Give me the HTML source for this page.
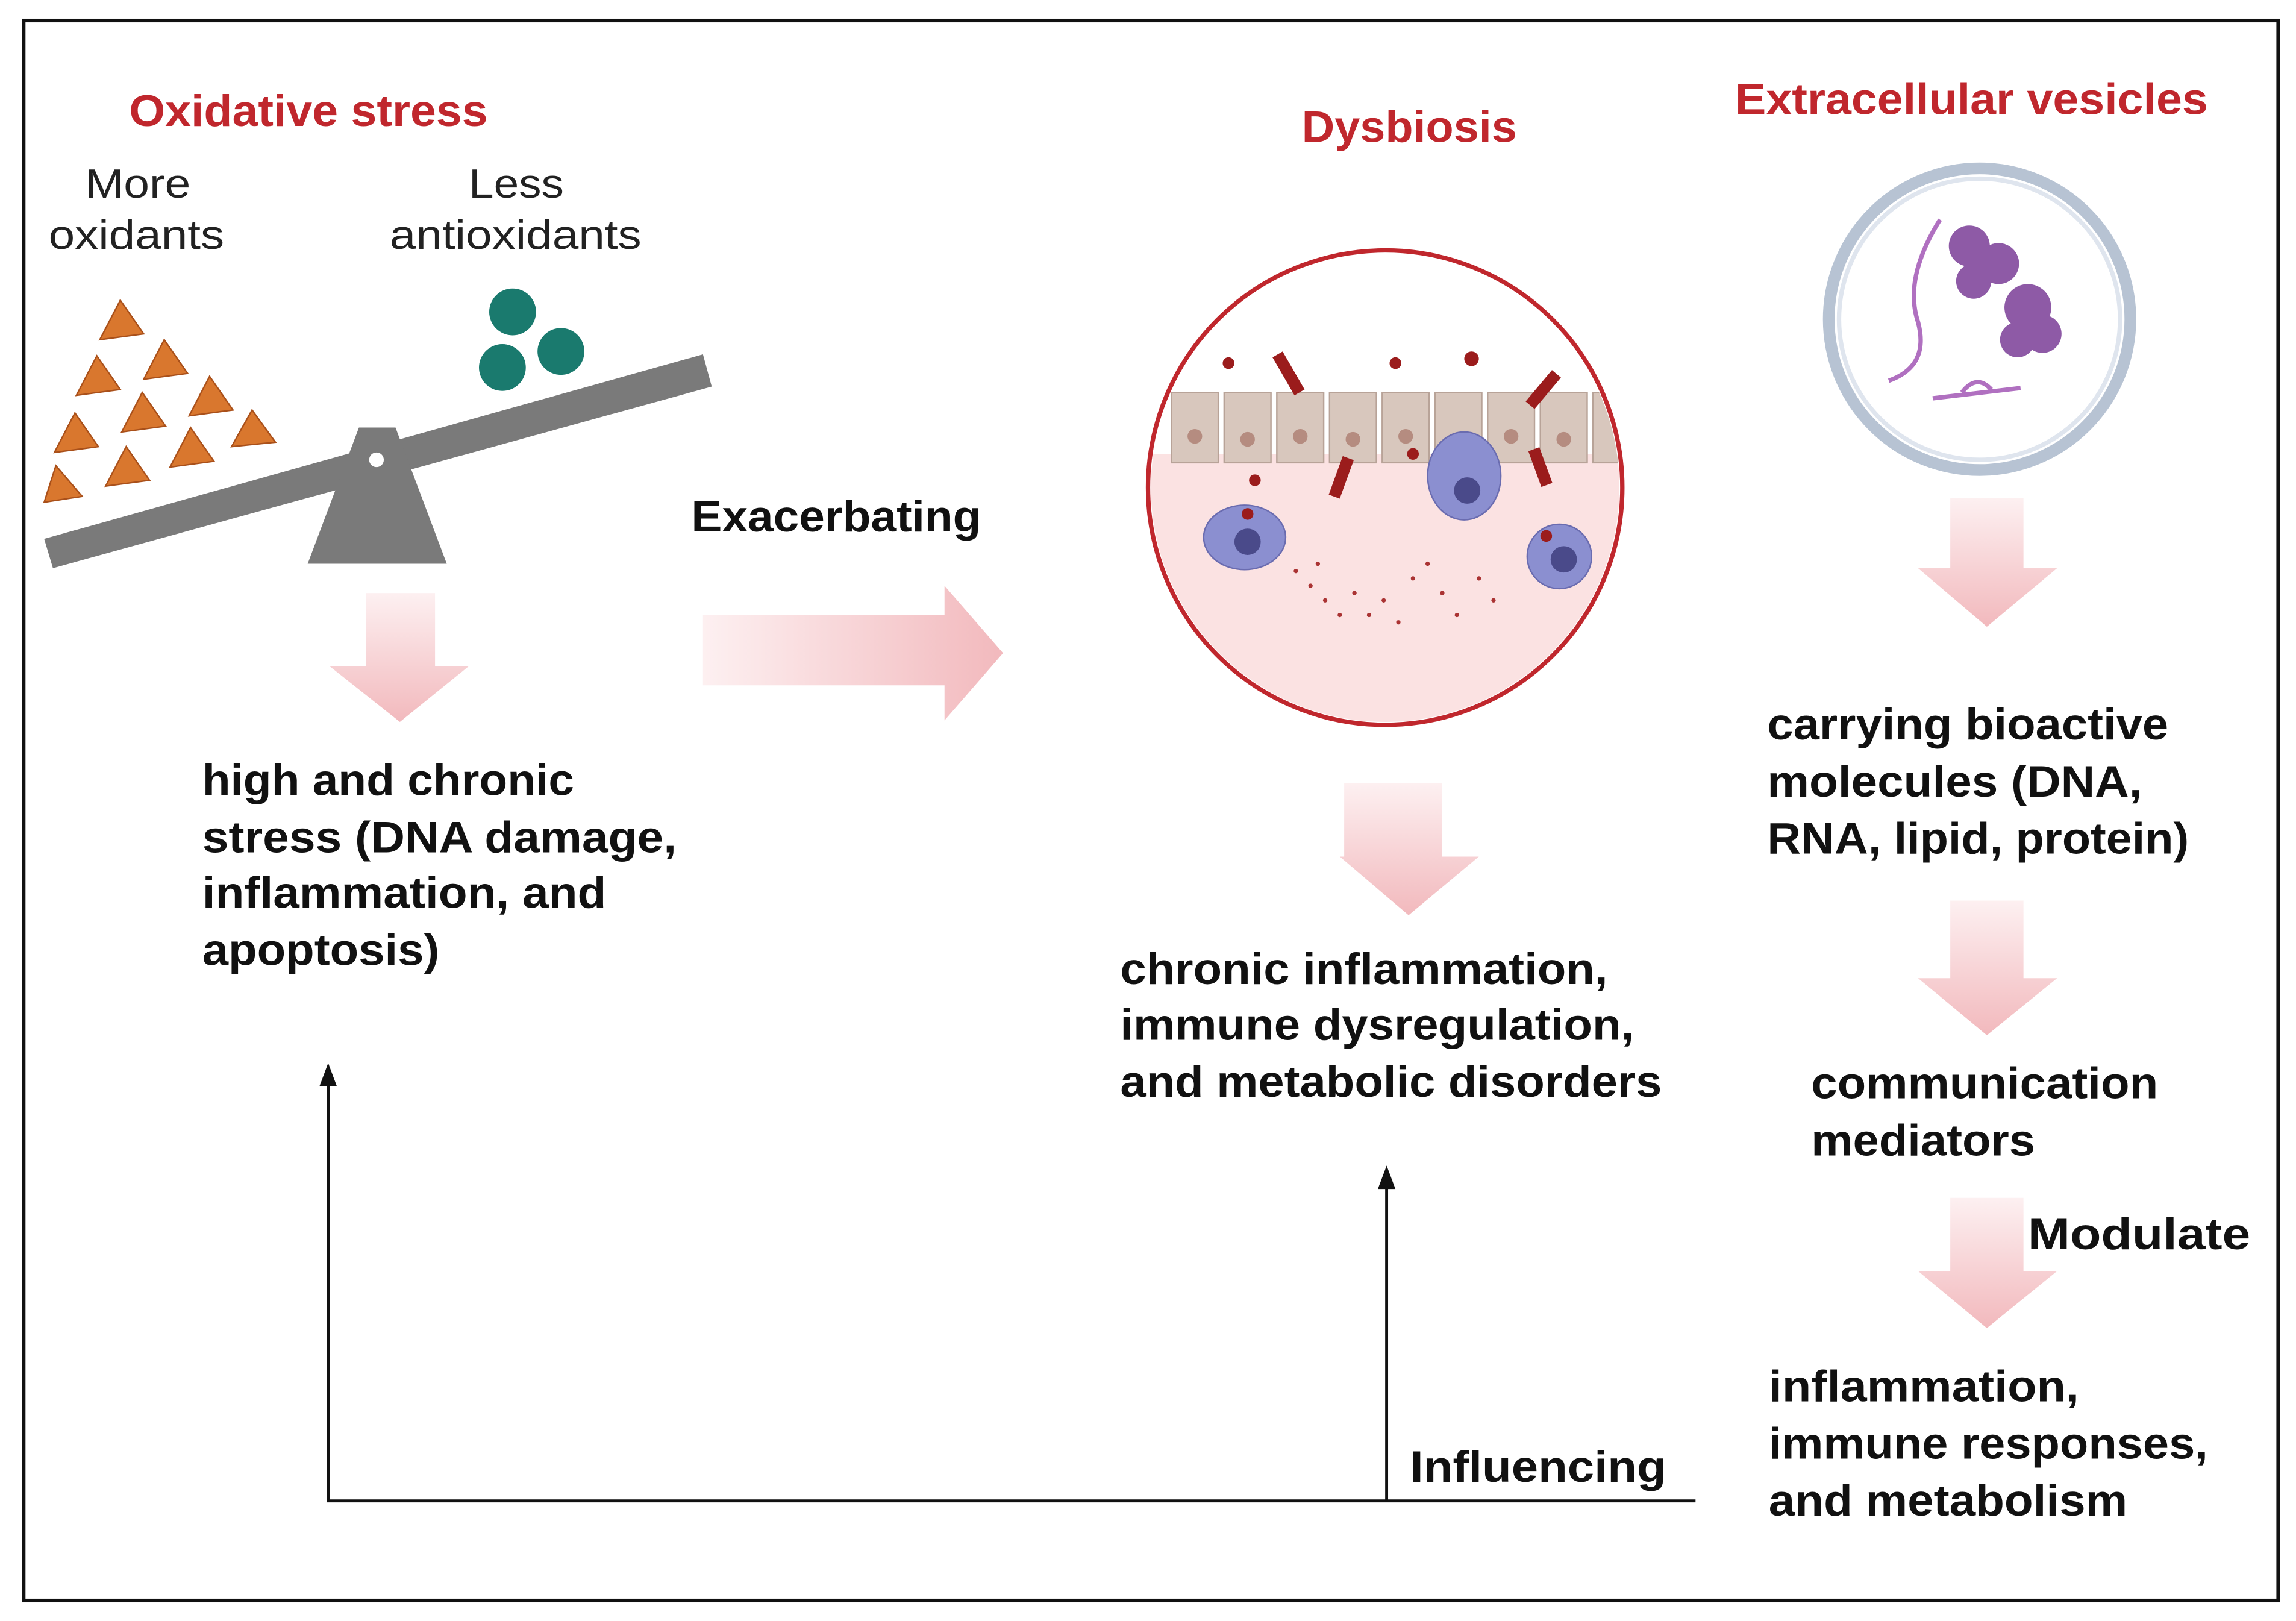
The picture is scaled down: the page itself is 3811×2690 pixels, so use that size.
<!DOCTYPE html>
<html><head><meta charset="utf-8"><style>
html,body{margin:0;padding:0;background:#fff}
svg{display:block}
text{font-family:"Liberation Sans",sans-serif}
</style></head><body>
<svg width="3811" height="2690" viewBox="0 0 1568 1107" xmlns="http://www.w3.org/2000/svg">
<defs>
<linearGradient id="gd" x1="0" y1="0" x2="0" y2="1"><stop offset="0" stop-color="#fdf0f1"/><stop offset="1" stop-color="#f2b9bd"/></linearGradient>
<linearGradient id="gr" x1="0" y1="0" x2="1" y2="0"><stop offset="0" stop-color="#fdf0f1"/><stop offset="1" stop-color="#f2b9bd"/></linearGradient>
<clipPath id="cc"><circle cx="946" cy="333" r="160"/></clipPath>
</defs>
<rect x="0" y="0" width="1568" height="1107" fill="#fff"/>
<rect x="16" y="14" width="1540" height="1079" fill="none" stroke="#111" stroke-width="2.5"/>

<g fill="#c0272d" font-weight="bold" font-size="30" lengthAdjust="spacingAndGlyphs">
<text x="88" y="86" textLength="245" lengthAdjust="spacingAndGlyphs">Oxidative stress</text>
<text x="889" y="97" textLength="147" lengthAdjust="spacingAndGlyphs">Dysbiosis</text>
<text x="1185" y="78" textLength="323" lengthAdjust="spacingAndGlyphs">Extracellular vesicles</text>
</g>
<g fill="#222" font-size="28">
<text x="58" y="135" textLength="72" lengthAdjust="spacingAndGlyphs">More</text>
<text x="33" y="170" textLength="120" lengthAdjust="spacingAndGlyphs">oxidants</text>
<text x="320" y="135" textLength="65" lengthAdjust="spacingAndGlyphs">Less</text>
<text x="266" y="170" textLength="172" lengthAdjust="spacingAndGlyphs">antioxidants</text>
</g>

<polygon points="30,368 480,242 486,264 36,388" fill="#7a7a7a"/>
<polygon points="245,292 270,292 305,385 210,385" fill="#7a7a7a"/>
<circle cx="257" cy="314" r="5" fill="#fff"/>
<g fill="#d9772e" stroke="#a9501a" stroke-width="1">
<polygon points="82,205 68,232 98,228"/>
<polygon points="66,243 52,270 82,266"/><polygon points="112,232 98,259 128,255"/>
<polygon points="51,282 37,309 67,305"/><polygon points="97,268 83,295 113,291"/><polygon points="143,257 129,284 159,280"/>
<polygon points="38,318 30,343 56,339"/><polygon points="86,305 72,332 102,328"/><polygon points="130,292 116,319 146,315"/><polygon points="172,280 158,305 188,302"/>
</g>
<g fill="#1a7a6e"><circle cx="350" cy="213" r="16"/><circle cx="343" cy="251" r="16"/><circle cx="383" cy="240" r="16"/></g>

<circle cx="946" cy="333" r="162" fill="#fff"/>
<g clip-path="url(#cc)">
<rect x="780" y="310" width="340" height="200" fill="#fbe2e2"/>
<g fill="#d8c7bd" stroke="#b8a398" stroke-width="1">
<rect x="800" y="268" width="32" height="48"/><rect x="836" y="268" width="32" height="48"/><rect x="872" y="268" width="32" height="48"/>
<rect x="908" y="268" width="32" height="48"/><rect x="944" y="268" width="32" height="48"/><rect x="980" y="268" width="32" height="48"/>
<rect x="1016" y="268" width="32" height="48"/><rect x="1052" y="268" width="32" height="48"/><rect x="1088" y="268" width="32" height="48"/>
</g>
<g fill="#b58c80"><circle cx="816" cy="298" r="5"/><circle cx="852" cy="300" r="5"/><circle cx="888" cy="298" r="5"/><circle cx="924" cy="300" r="5"/><circle cx="960" cy="298" r="5"/><circle cx="996" cy="300" r="5"/><circle cx="1032" cy="298" r="5"/><circle cx="1068" cy="300" r="5"/></g>
<g fill="#8b8fd0" stroke="#6a6cb0"><ellipse cx="850" cy="367" rx="28" ry="22"/><ellipse cx="1000" cy="325" rx="25" ry="30"/><circle cx="1065" cy="380" r="22"/></g>
<g fill="#4a4a8a"><circle cx="852" cy="370" r="9"/><circle cx="1002" cy="335" r="9"/><circle cx="1068" cy="382" r="9"/></g>
<g fill="#9b1c1c"><rect x="876" y="240" width="8" height="30" transform="rotate(-30 880 255)"/><rect x="912" y="312" width="8" height="28" transform="rotate(20 916 326)"/><rect x="1050" y="252" width="8" height="28" transform="rotate(40 1054 266)"/><rect x="1048" y="306" width="8" height="26" transform="rotate(-20 1052 319)"/>
<circle cx="839" cy="248" r="4"/><circle cx="1005" cy="245" r="5"/><circle cx="953" cy="248" r="4"/><circle cx="857" cy="328" r="4"/><circle cx="965" cy="310" r="4"/><circle cx="852" cy="351" r="4"/><circle cx="1056" cy="366" r="4"/></g>
<g fill="#a33">
<circle cx="885" cy="390" r="1.5"/><circle cx="895" cy="400" r="1.5"/><circle cx="905" cy="410" r="1.5"/><circle cx="915" cy="420" r="1.5"/><circle cx="925" cy="405" r="1.5"/><circle cx="945" cy="410" r="1.5"/><circle cx="965" cy="395" r="1.5"/><circle cx="975" cy="385" r="1.5"/><circle cx="985" cy="405" r="1.5"/><circle cx="995" cy="420" r="1.5"/><circle cx="1010" cy="395" r="1.5"/><circle cx="1020" cy="410" r="1.5"/><circle cx="955" cy="425" r="1.5"/><circle cx="935" cy="420" r="1.5"/><circle cx="900" cy="385" r="1.5"/>
</g>
</g>
<circle cx="946" cy="333" r="162" fill="none" stroke="#c0272d" stroke-width="3"/>

<circle cx="1352" cy="218" r="103" fill="#fff" stroke="#b7c3d3" stroke-width="8"/>
<circle cx="1352" cy="218" r="96" fill="none" stroke="#dfe5ee" stroke-width="3"/>
<path d="M1325 150 Q1300 190 1310 220 Q1318 250 1290 260" fill="none" stroke="#b070c0" stroke-width="3"/>
<path d="M1320 272 L1380 265 M1340 268 Q1350 255 1360 266" fill="none" stroke="#b070c0" stroke-width="3"/>
<g fill="#8e5aa6"><circle cx="1345" cy="168" r="14"/><circle cx="1365" cy="180" r="14"/><circle cx="1348" cy="192" r="12"/><circle cx="1385" cy="210" r="16"/><circle cx="1395" cy="228" r="13"/><circle cx="1378" cy="232" r="12"/></g>

<polygon points="250,405 297,405 297,455 320,455 273,493 225,455 250,455" fill="url(#gd)"/>
<polygon points="480,420 645,420 645,400 685,446 645,492 645,468 480,468" fill="url(#gr)"/>
<polygon points="918,535 985,535 985,585 1010,585 962,625 915,585 918,585" fill="url(#gd)"/>
<polygon points="1332,340 1382,340 1382,388 1405,388 1357,428 1310,388 1332,388" fill="url(#gd)"/>
<polygon points="1332,615 1382,615 1382,668 1405,668 1357,707 1310,668 1332,668" fill="url(#gd)"/>
<polygon points="1332,818 1382,818 1382,868 1405,868 1357,907 1310,868 1332,868" fill="url(#gd)"/>

<polyline points="1158,1025 224,1025 224,738" fill="none" stroke="#111" stroke-width="2"/>
<polygon points="224,726 218,742 230,742" fill="#111"/>
<line x1="947" y1="1025" x2="947" y2="808" stroke="#111" stroke-width="2"/>
<polygon points="947,796 941,812 953,812" fill="#111"/>

<g fill="#111" font-weight="bold" font-size="30">
<text x="472" y="363" textLength="198" lengthAdjust="spacingAndGlyphs">Exacerbating</text>
<text x="138" y="543" textLength="254" lengthAdjust="spacingAndGlyphs">high and chronic</text>
<text x="138" y="582" textLength="324" lengthAdjust="spacingAndGlyphs">stress (DNA damage,</text>
<text x="138" y="620" textLength="276" lengthAdjust="spacingAndGlyphs">inflammation, and</text>
<text x="138" y="659" textLength="162" lengthAdjust="spacingAndGlyphs">apoptosis)</text>
<text x="765" y="672" textLength="333" lengthAdjust="spacingAndGlyphs">chronic inflammation,</text>
<text x="765" y="710" textLength="351" lengthAdjust="spacingAndGlyphs">immune dysregulation,</text>
<text x="765" y="749" textLength="370" lengthAdjust="spacingAndGlyphs">and metabolic disorders</text>
<text x="1207" y="505" textLength="274" lengthAdjust="spacingAndGlyphs">carrying bioactive</text>
<text x="1207" y="544" textLength="256" lengthAdjust="spacingAndGlyphs">molecules (DNA,</text>
<text x="1207" y="583" textLength="288" lengthAdjust="spacingAndGlyphs">RNA, lipid, protein)</text>
<text x="1237" y="750" textLength="237" lengthAdjust="spacingAndGlyphs">communication</text>
<text x="1237" y="789" textLength="153" lengthAdjust="spacingAndGlyphs">mediators</text>
<text x="1385" y="853" textLength="152" lengthAdjust="spacingAndGlyphs">Modulate</text>
<text x="1208" y="957" textLength="212" lengthAdjust="spacingAndGlyphs">inflammation,</text>
<text x="1208" y="996" textLength="300" lengthAdjust="spacingAndGlyphs">immune responses,</text>
<text x="1208" y="1035" textLength="245" lengthAdjust="spacingAndGlyphs">and metabolism</text>
<text x="963" y="1012" textLength="175" lengthAdjust="spacingAndGlyphs">Influencing</text>
</g>
</svg>
</body></html>
